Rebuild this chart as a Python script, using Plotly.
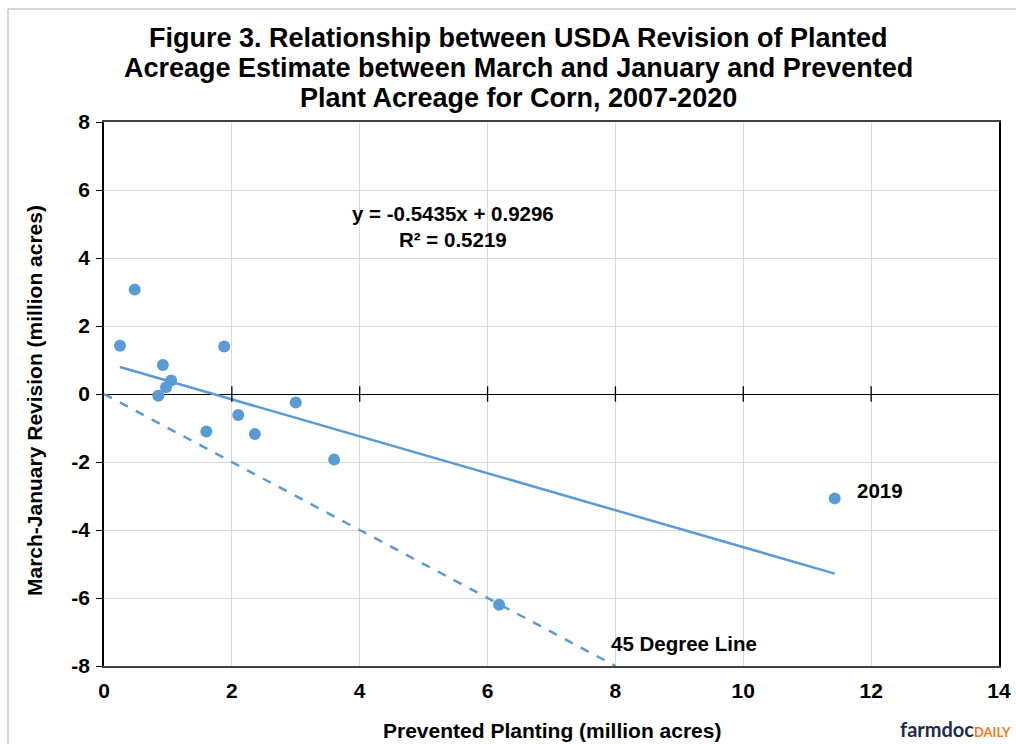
import plotly.graph_objects as go

# Data
prevented = [0.25, 0.48, 0.92, 1.05, 0.97, 0.85, 1.88, 1.60, 2.10, 2.36, 3.00, 3.60, 6.18, 11.43]
revision = [1.42, 3.07, 0.85, 0.40, 0.20, -0.05, 1.40, -1.10, -0.62, -1.18, -0.25, -1.93, -6.20, -3.07]
slope = -0.5435
intercept = 0.9296
x_ticks = [0, 2, 4, 6, 8, 10, 12, 14]
y_ticks = [-8, -6, -4, -2, 0, 2, 4, 6, 8]
y_tick_labels = ["-8", "-6", "-4", "-2", "0", "2", "4", "6", "8"]
title_lines = [
    "Figure 3. Relationship between USDA Revision of Planted",
    "Acreage Estimate between March and January and Prevented",
    "Plant Acreage for Corn, 2007-2020",
]
x_title = "Prevented Planting (million acres)"
y_title = "March-January Revision (million acres)"

BLUE = "#5B9BD5"
FONT = "Liberation Sans, Arial, sans-serif"

# plot area in pixels: x 104..999, y 122..666
def py(p):
    return (666 - p) / 544.0

def px(p):
    return (p - 104) / 895.0

fig = go.Figure()

# 45 degree line
fig.add_trace(go.Scatter(x=[0, 8], y=[0, -8], mode="lines",
                         line=dict(color=BLUE, width=2.5, dash="dash"),
                         hoverinfo="skip", showlegend=False))
# Trend line
x_min, x_max = min(prevented), max(prevented)
fig.add_trace(go.Scatter(x=[x_min, x_max], y=[slope * x_min + intercept, slope * x_max + intercept],
                         mode="lines", line=dict(color=BLUE, width=2.5),
                         hoverinfo="skip", showlegend=False))
# Tick marks on the zero line
fig.add_trace(go.Scatter(x=x_ticks[1:-1], y=[0] * (len(x_ticks) - 2), mode="markers",
                         marker=dict(symbol="line-ns-open", size=11, color="black",
                                     line=dict(color="black", width=1.3)),
                         hoverinfo="skip", showlegend=False))
# Points
fig.add_trace(go.Scatter(x=prevented, y=revision, mode="markers",
                         marker=dict(color=BLUE, size=12),
                         showlegend=False))

annotations = []
for i, line in enumerate(title_lines):
    annotations.append(dict(xref="paper", yref="paper", x=px(518), y=py(38 + 30 * i),
                            xanchor="center", yanchor="middle", text=line, showarrow=False,
                            font=dict(size=27, weight="bold")))

annotations += [
    dict(xref="paper", yref="paper", x=px(552), y=py(730), xanchor="center", yanchor="middle",
         text=x_title, showarrow=False, font=dict(size=21, weight="bold")),
    dict(xref="paper", yref="paper", x=px(34), y=py(401), xanchor="center", yanchor="middle",
         text=y_title, textangle=-90, showarrow=False, font=dict(size=21, weight="bold")),
    dict(x=5.46, y=5.3, text="y = -0.5435x + 0.9296", showarrow=False,
         font=dict(size=20.5, weight="bold")),
    dict(x=5.46, y=4.55, text="R² = 0.5219", showarrow=False,
         font=dict(size=20.5, weight="bold")),
    dict(x=11.74, y=-2.85, text="2019", showarrow=False, xanchor="left",
         font=dict(size=20.5, weight="bold")),
    dict(x=9.07, y=-7.35, text="45 Degree Line", showarrow=False,
         font=dict(size=20.5, weight="bold")),
    dict(xref="paper", yref="paper", x=px(1012), y=py(729), xanchor="right", yanchor="middle",
         text="<span style='color:#1f2a4d'>farmdoc</span><span style='color:#f07c1b;font-size:13px'>DAILY</span>",
         showarrow=False, borderpad=0,
         font=dict(size=20, weight="bold", family="Lato, Liberation Sans, sans-serif")),
]

fig.update_layout(
    width=1016, height=744,
    margin=dict(l=104, r=17, t=122, b=78),
    paper_bgcolor="white", plot_bgcolor="white",
    font=dict(family=FONT, color="black"),
    xaxis=dict(range=[0, 14], tickvals=x_ticks, showgrid=True, gridcolor="#d9d9d9", gridwidth=1,
               zeroline=False, showline=True, linecolor="#404040", linewidth=1.5, mirror=True,
               ticks="", tickfont=dict(size=21, weight="bold"), ticklabelstandoff=5,
               automargin=False),
    yaxis=dict(range=[-8, 8], tickvals=y_ticks, ticktext=y_tick_labels,
               showgrid=True, gridcolor="#d9d9d9", gridwidth=1,
               zeroline=True, zerolinecolor="black", zerolinewidth=1.2,
               showline=True, linecolor="black", linewidth=1.5, mirror=True,
               ticks="outside", ticklen=6, tickcolor="black", ticklabelstandoff=2,
               tickfont=dict(size=21, weight="bold"), automargin=False),
    annotations=annotations,
    shapes=[
        dict(type="line", xref="paper", yref="paper", x0=px(8), x1=1.03, y0=py(9), y1=py(9),
             line=dict(color="#c8c8c8", width=1.5)),
        dict(type="line", xref="paper", yref="paper", x0=px(8), x1=px(8), y0=py(9), y1=-0.2,
             line=dict(color="#c8c8c8", width=1.5)),
    ],
)

fig.write_html("out.html")
